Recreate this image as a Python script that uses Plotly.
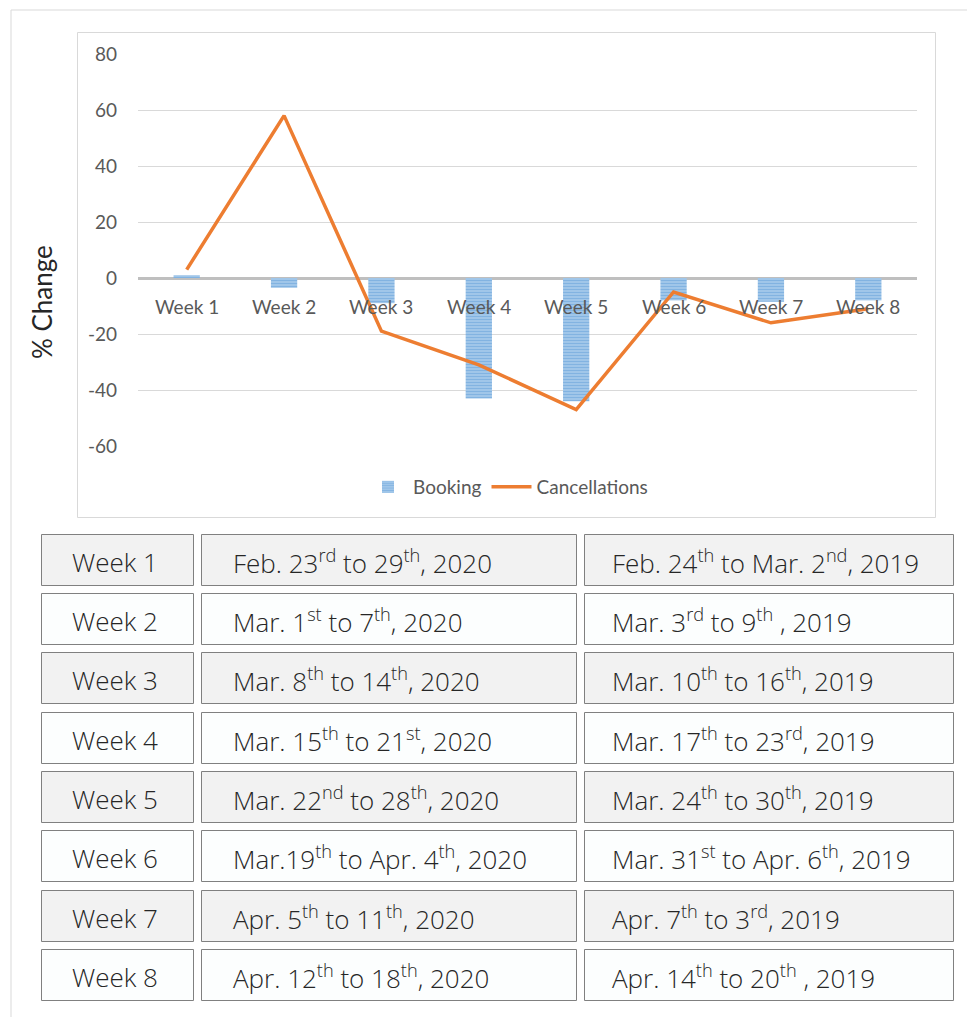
import plotly.graph_objects as go

# ---- data ----
weeks = ["Week 1", "Week 2", "Week 3", "Week 4", "Week 5", "Week 6", "Week 7", "Week 8"]
booking = [1, -3.5, -9, -43, -44, -8, -8.5, -8]
cancellations = [3, 58, -19, -31, -47, -5, -16, -11]
y_ticks = [80, 60, 40, 20, 0, -20, -40, -60]
dates_2020 = [
    "Feb. 23<sup>rd</sup> to 29<sup>th</sup>, 2020",
    "Mar. 1<sup>st</sup> to 7<sup>th</sup>, 2020",
    "Mar. 8<sup>th</sup> to 14<sup>th</sup>, 2020",
    "Mar. 15<sup>th</sup> to 21<sup>st</sup>, 2020",
    "Mar. 22<sup>nd</sup> to 28<sup>th</sup>, 2020",
    "Mar.19<sup>th</sup> to Apr. 4<sup>th</sup>, 2020",
    "Apr. 5<sup>th</sup> to 11<sup>th</sup>, 2020",
    "Apr. 12<sup>th</sup> to 18<sup>th</sup>, 2020",
]
dates_2019 = [
    "Feb. 24<sup>th</sup> to Mar. 2<sup>nd</sup>, 2019",
    "Mar. 3<sup>rd</sup> to 9<sup>th</sup> , 2019",
    "Mar. 10<sup>th</sup> to 16<sup>th</sup>, 2019",
    "Mar. 17<sup>th</sup> to 23<sup>rd</sup>, 2019",
    "Mar. 24<sup>th</sup> to 30<sup>th</sup>, 2019",
    "Mar. 31<sup>st</sup> to Apr. 6<sup>th</sup>, 2019",
    "Apr. 7<sup>th</sup> to 3<sup>rd</sup>, 2019",
    "Apr. 14<sup>th</sup> to 20<sup>th</sup> , 2019",
]

W, H = 967, 1017


def px(x):
    return x / W


def py(y):
    return 1 - y / H


fig = go.Figure()
fig.add_trace(go.Bar(
    x=weeks, y=booking, name="Booking",
    marker=dict(
        color="#8FBAE4",
        line=dict(width=0),
        pattern=dict(shape="-", fgcolor="#5B9BD5", bgcolor="#A9CBEC", size=3, solidity=0.5),
    ),
    width=0.27,
))
fig.add_trace(go.Scatter(
    x=weeks, y=cancellations, name="Cancellations", mode="lines",
    line=dict(color="#ED7D31", width=3.5),
))

label_font = dict(family="Lato, Open Sans, sans-serif", size=19, color="#595959")

fig.update_layout(
    width=W, height=H,
    autosize=False,
    margin=dict(l=0, r=0, t=0, b=0, pad=0, autoexpand=False),
    paper_bgcolor="white", plot_bgcolor="white",
    showlegend=True,
    legend=dict(orientation="h", x=px(508), xanchor="center", y=py(487), yanchor="middle",
                font=label_font, bgcolor="rgba(0,0,0,0)", itemwidth=40, tracegroupgap=0),
    xaxis=dict(domain=[px(138), px(917)], showticklabels=False, showgrid=False,
               showline=False, zeroline=False, ticks="", automargin=False),
    yaxis=dict(domain=[py(446), py(54)], range=[-60, 80], tickvals=y_ticks,
               ticktext=[str(v) for v in y_ticks],
               tickfont=label_font, showgrid=True, gridcolor="#D9D9D9", gridwidth=1,
               zeroline=True, zerolinecolor="#BFBFBF", zerolinewidth=2.5,
               showline=False, ticks="", ticklabelstandoff=20, automargin=False),
    bargap=0.73,
)

annotations = []
for w in weeks:
    annotations.append(dict(x=w, y=0, xref="x", yref="y", text=w, showarrow=False,
                            yanchor="middle", yshift=-28, font=label_font))

annotations.append(dict(x=px(42), y=py(302), xref="paper", yref="paper", text="% Change",
                        textangle=-90, showarrow=False, xanchor="center", yanchor="middle",
                        font=dict(family="Lato, Open Sans, sans-serif", size=26, color="#262626")))

shapes = []
# outer frame lines
shapes.append(dict(type="line", xref="paper", yref="paper", x0=px(11), x1=px(11), y0=py(10), y1=py(1017),
                   line=dict(color="#D9D9D9", width=1)))
shapes.append(dict(type="line", xref="paper", yref="paper", x0=px(11), x1=px(967), y0=py(10), y1=py(10),
                   line=dict(color="#D9D9D9", width=1)))
# chart box
shapes.append(dict(type="rect", xref="paper", yref="paper", x0=px(77.5), x1=px(935.5), y0=py(32.5), y1=py(517.5),
                   line=dict(color="#D9D9D9", width=1), layer="below"))

# table
row_tops = [534, 593, 652, 712, 771, 830, 890, 949]
row_h = 51
cols = [(41.5, 193.5), (201.5, 576.5), (584.5, 953.5)]
table_font = dict(family="Open Sans, sans-serif", size=26, color="#262626", weight=300)
for i, top in enumerate(row_tops):
    fill = "#F2F2F2" if i % 2 == 0 else "#FCFEFE"
    for (x0, x1) in cols:
        shapes.append(dict(type="rect", xref="paper", yref="paper", x0=px(x0), x1=px(x1),
                           y0=py(top + 0.5), y1=py(top + row_h + 0.5),
                           fillcolor=fill, line=dict(color="#808080", width=1)))
    yc = py(top + row_h / 2 + 2)
    annotations.append(dict(x=px(115), y=yc, xref="paper", yref="paper", text=weeks[i],
                            showarrow=False, xanchor="center", yanchor="middle", font=table_font))
    annotations.append(dict(x=px(231), y=yc, xref="paper", yref="paper", text=dates_2020[i],
                            showarrow=False, xanchor="left", yanchor="middle", font=table_font))
    annotations.append(dict(x=px(610), y=yc, xref="paper", yref="paper", text=dates_2019[i],
                            showarrow=False, xanchor="left", yanchor="middle", font=table_font))

fig.update_layout(annotations=annotations, shapes=shapes)

fig.write_html("out.html", config={"displayModeBar": False},
               post_script="document.body.style.margin='0';document.body.style.overflow='hidden';")
